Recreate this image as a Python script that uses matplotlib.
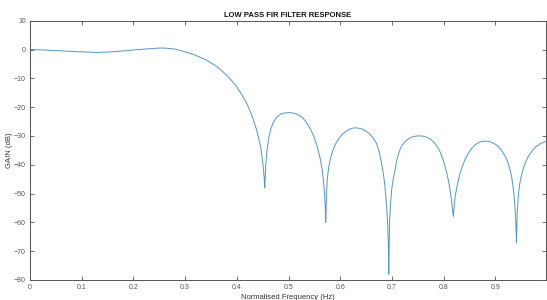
import numpy as np
import matplotlib
matplotlib.use("Agg")
import matplotlib.pyplot as plt
import matplotlib.ticker as ticker

# normalised frequency and gain (dB)
freq = [0.0, 0.03, 0.06, 0.09, 0.12, 0.13, 0.15, 0.18, 0.21, 0.24, 0.25, 0.26, 0.28,
        0.29, 0.30, 0.31, 0.32, 0.33, 0.34, 0.35, 0.36, 0.37, 0.38, 0.39, 0.40, 0.41,
        0.42, 0.425, 0.43, 0.435, 0.44, 0.444, 0.447, 0.450, 0.452, 0.4535, 0.454,
        # lobe 1
        0.456, 0.458, 0.461, 0.465, 0.470, 0.477, 0.485, 0.494, 0.503, 0.512, 0.520,
        0.528, 0.535, 0.542, 0.549, 0.555, 0.561, 0.565, 0.568, 0.570, 0.5715, 0.572,
        # lobe 2
        0.5735, 0.575, 0.578, 0.583, 0.589, 0.595, 0.601, 0.607, 0.613, 0.619, 0.624,
        0.629, 0.6355, 0.642, 0.6485, 0.655, 0.6615, 0.670, 0.675, 0.679, 0.683, 0.686,
        0.688, 0.690, 0.692, 0.693, 0.694,
        # lobe 3
        0.695, 0.696, 0.698, 0.700, 0.703, 0.706, 0.710, 0.715, 0.720, 0.726, 0.733,
        0.740, 0.747, 0.754, 0.761, 0.768, 0.775, 0.782, 0.788, 0.794, 0.800, 0.805,
        0.809, 0.812, 0.815, 0.817, 0.819,
        # lobe 4
        0.821, 0.823, 0.826, 0.830, 0.835, 0.841, 0.847, 0.854, 0.861, 0.868, 0.874,
        0.880, 0.887, 0.894, 0.901, 0.908, 0.914, 0.920, 0.925, 0.929, 0.932, 0.935,
        0.937, 0.939, 0.940, 0.941,
        # lobe 5
        0.942, 0.943, 0.945, 0.948, 0.951, 0.955, 0.960, 0.966, 0.973, 0.980, 0.988,
        0.998]
gain = [0.0, -0.2, -0.45, -0.75, -0.95, -1.0, -0.9, -0.5, 0.0, 0.4, 0.5, 0.5, 0.15,
        -0.3, -0.8, -1.35, -2.0, -2.8, -3.6, -4.6, -5.8, -7.2, -8.9, -10.8, -13.0, -15.8,
        -19.0, -21.0, -23.3, -26.0, -29.0, -32.0, -35.0, -39.0, -42.5, -46.0, -48.0,
        # lobe 1
        -40.0, -35.5, -31.5, -28.0, -25.5, -23.5, -22.4, -22.0, -21.9, -22.2, -22.8,
        -23.8, -25.4, -27.5, -30.2, -33.5, -37.5, -41.5, -46.0, -51.0, -56.0, -60.0,
        # lobe 2
        -50.0, -45.0, -40.5, -36.5, -33.5, -31.5, -30.1, -29.0, -28.2, -27.6, -27.3,
        -27.2, -27.3, -27.6, -28.2, -29.0, -30.2, -32.5, -35.2, -38.5, -42.5, -46.5,
        -50.5, -55.0, -61.0, -67.0, -78.0,
        # lobe 3
        -65.0, -58.0, -52.0, -48.0, -44.5, -42.0, -38.0, -35.0, -33.2, -31.9, -30.9,
        -30.3, -30.05, -30.0, -30.1, -30.5, -31.2, -32.3, -33.8, -35.8, -38.8, -42.0,
        -45.2, -48.2, -52.0, -55.0, -58.0,
        # lobe 4
        -53.0, -50.5, -47.5, -44.3, -41.2, -38.4, -36.3, -34.4, -33.1, -32.3, -31.9,
        -31.8, -31.9, -32.3, -33.0, -34.1, -35.5, -37.3, -39.5, -42.0, -44.5, -48.5,
        -52.0, -57.0, -61.0, -67.0,
        # lobe 5
        -60.0, -55.0, -50.0, -46.0, -43.5, -41.0, -38.6, -36.5, -34.8, -33.6, -32.6,
        -31.9]

xticks = [0, 0.1, 0.2, 0.3, 0.4, 0.5, 0.6, 0.7, 0.8, 0.9]
yticks = [-80, -70, -60, -50, -40, -30, -20, -10, 0, 10]

plt.rcParams["font.family"] = ["Liberation Sans", "DejaVu Sans"]

fig = plt.figure(figsize=(5.47, 3.0), dpi=100)
ax = fig.add_axes([0.055, 0.067, 0.943, 0.864])

ax.plot(freq, gain, color="#4f97c8", lw=0.7)

ax.set_xlim(0, 0.998)
ax.set_ylim(-80, 10)
ax.xaxis.set_major_locator(ticker.FixedLocator(xticks))
ax.yaxis.set_major_locator(ticker.FixedLocator(yticks))
ax.set_xticklabels([f"{t:g}" for t in xticks])
ax.tick_params(direction="in", top=True, right=True, length=3, width=0.6,
               labelsize=5, colors="#555555", pad=3)
for s in ax.spines.values():
    s.set_color("#555555")
    s.set_linewidth(0.7)

ax.set_title("LOW PASS FIR FILTER RESPONSE", fontsize=5.5, fontweight="bold",
             color="#111111", pad=3)
ax.set_xlabel("Normalised Frequency (Hz)", fontsize=5.5, color="#333333", labelpad=2)
ax.set_ylabel("GAIN (dB)", fontsize=5.5, color="#333333", labelpad=1)

fig.savefig("out.png", dpi=100)
